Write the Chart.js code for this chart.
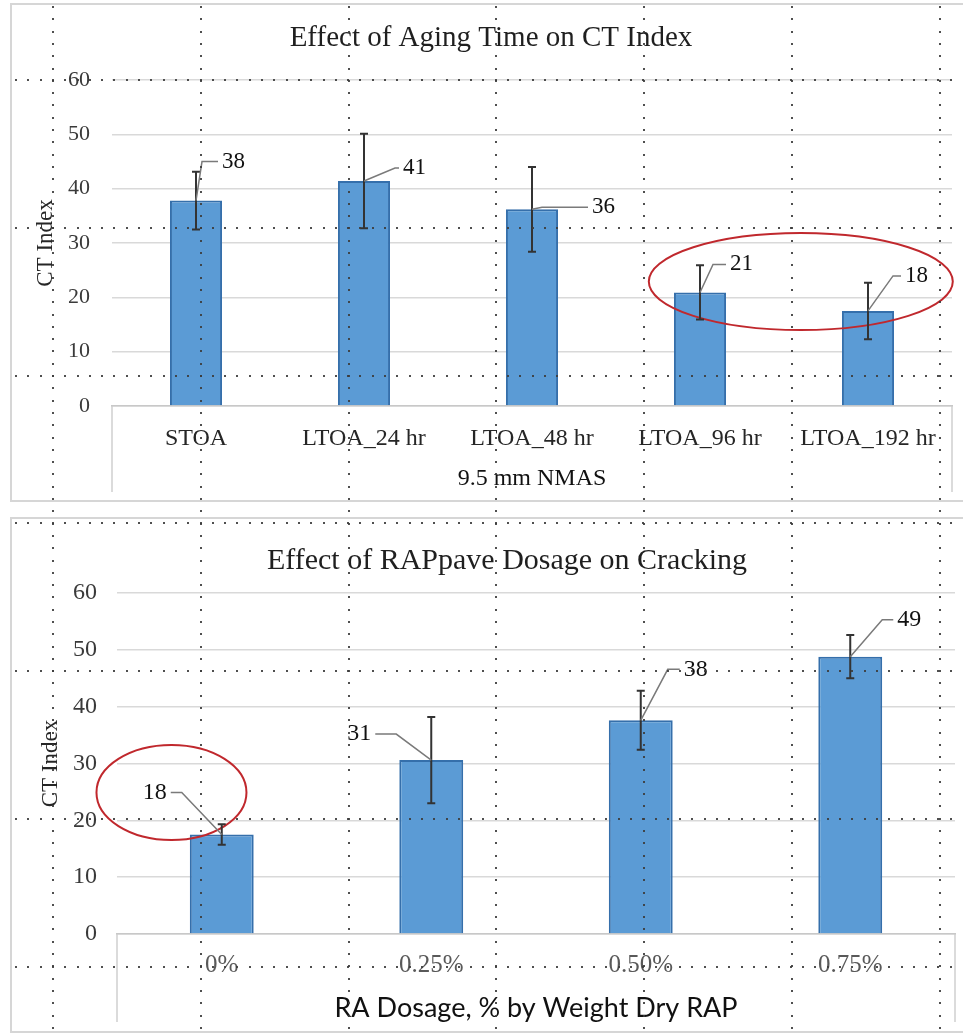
<!DOCTYPE html>
<html>
<head>
<meta charset="utf-8">
<script src="https://cdn.jsdelivr.net/npm/chart.js@4.4.1/dist/chart.umd.min.js"></script>
<style>
  html, body { margin: 0; padding: 0; background: #fff; }
  body { width: 963px; height: 1033px; position: relative; overflow: hidden; }
  #agingChart { position: absolute; left: 10px; top: 3px; }
  #rapChart { position: absolute; left: 10px; top: 517px; }
  #dots { position: absolute; left: 0; top: 0; pointer-events: none; z-index: 5; }
</style>
</head>
<body>
<canvas id="agingChart" width="955" height="499"></canvas>
<canvas id="rapChart" width="955" height="516"></canvas>
<canvas id="dots" width="963" height="1033"></canvas>
<script>
// data
const agingLabels = ["STOA", "LTOA_24 hr", "LTOA_48 hr", "LTOA_96 hr", "LTOA_192 hr"];
const agingCT = [37.8, 41.4, 36.2, 20.9, 17.5];
const agingErr = [5.3, 8.7, 7.8, 5.0, 5.2];

const rapLabels = ["0%", "0.25%", "0.50%", "0.75%"];
const rapCT = [17.5, 30.6, 37.6, 48.8];
const rapErr = [1.8, 7.6, 5.2, 3.8];

const yTicks = [0, 10, 20, 30, 40, 50, 60];

const serif = "'Liberation Serif', 'Times New Roman', serif";

// label placement (px from bar top), k = where the leader bends
const agingLabelPos = [
  { dx: 26, dy: -39, k: 20 },
  { dx: 39, dy: -13, k: 8 },
  { dx: 60, dy: -2, k: 50 },
  { dx: 30, dy: -28, k: 17 },
  { dx: 37, dy: -35, k: 12 }
];
const rapLabelPos = [
  { dx: -55, dy: -42, k: 15 },
  { dx: -60, dy: -26, k: 25 },
  { dx: 43, dy: -51, k: 16 },
  { dx: 47, dy: -37, k: 15 }
];

const panelTitle = {
  id: "panelTitle",
  afterDraw(chart, args, o) {
    const ctx = chart.ctx;
    ctx.save();
    ctx.font = o.size + "px " + serif;
    ctx.fillStyle = "#1f1f1f";
    ctx.textAlign = "center";
    ctx.textBaseline = "middle";
    ctx.fillText(o.text, o.x, o.y);
    ctx.restore();
  }
};

const panelFrame = {
  id: "panelFrame",
  beforeDraw(chart, args, o) {
    const ctx = chart.ctx;
    const a = chart.chartArea;
    ctx.save();
    ctx.strokeStyle = "#d6d6d6";
    ctx.lineWidth = 2;
    ctx.strokeRect(1, 1, chart.width - 2, chart.height - 2);
    ctx.strokeStyle = "#d0d0d0";
    ctx.lineWidth = 1.5;
    ctx.beginPath();
    ctx.moveTo(a.left, a.bottom);
    ctx.lineTo(a.left, a.bottom + o.drop);
    ctx.moveTo(a.right, a.bottom);
    ctx.lineTo(a.right, a.bottom + o.drop);
    ctx.stroke();
    ctx.restore();
  }
};

const barExtras = {
  id: "barExtras",
  afterDatasetsDraw(chart, args, o) {
    const ctx = chart.ctx;
    const ys = chart.scales.y;
    const xs = chart.scales.x;
    const vals = chart.data.datasets[0].data;
    const meta = chart.getDatasetMeta(0);
    ctx.save();
    // red ellipse
    ctx.strokeStyle = "#c0282d";
    ctx.lineWidth = 2;
    ctx.beginPath();
    ctx.ellipse(xs.getPixelForValue(o.ring.x), ys.getPixelForValue(o.ring.y), o.ring.rx, o.ring.ry, 0, 0, Math.PI * 2);
    ctx.stroke();

    meta.data.forEach((bar, i) => {
      const hi = ys.getPixelForValue(vals[i] + o.errors[i]);
      const lo = ys.getPixelForValue(vals[i] - o.errors[i]);
      ctx.strokeStyle = "#333333";
      ctx.lineWidth = 2;
      ctx.beginPath();
      ctx.moveTo(bar.x, hi); ctx.lineTo(bar.x, lo);
      ctx.moveTo(bar.x - 4, hi); ctx.lineTo(bar.x + 4, hi);
      ctx.moveTo(bar.x - 4, lo); ctx.lineTo(bar.x + 4, lo);
      ctx.stroke();

      const p = o.placement[i];
      const dir = p.dx >= 0 ? 1 : -1;
      const edge = bar.x + p.dx;
      const ly = bar.y + p.dy;
      ctx.strokeStyle = "#7a7a7a";
      ctx.lineWidth = 1.5;
      ctx.beginPath();
      ctx.moveTo(bar.x, bar.y);
      ctx.lineTo(edge - dir * p.k, ly);
      ctx.lineTo(edge - dir * 4, ly);
      ctx.stroke();

      ctx.fillStyle = "#111111";
      ctx.font = o.fontSize + "px " + serif;
      ctx.textAlign = dir > 0 ? "left" : "right";
      ctx.textBaseline = "middle";
      ctx.fillText(String(Math.round(vals[i])), edge, ly);
    });
    ctx.restore();
  }
};

function makeChart(id, cfg) {
  return new Chart(document.getElementById(id), {
    type: "bar",
    data: {
      labels: cfg.labels,
      datasets: [{
        data: cfg.values,
        backgroundColor: "#5b9bd5",
        borderColor: "#356fab",
        borderWidth: 2,
        categoryPercentage: 1,
        barPercentage: cfg.barPct
      }]
    },
    plugins: [panelFrame, barExtras, panelTitle],
    options: {
      responsive: false,
      animation: false,
      layout: { padding: { top: cfg.top, right: cfg.right, left: 0, bottom: 0 } },
      plugins: {
        legend: { display: false },
        tooltip: { enabled: false },
        panelTitle: cfg.title,
        panelFrame: { drop: cfg.drop },
        barExtras: { errors: cfg.errors, placement: cfg.placement, ring: cfg.ring, fontSize: cfg.labelSize }
      },
      scales: {
        y: {
          min: 0,
          max: 60,
          afterBuildTicks: (s) => { s.ticks = yTicks.map((v) => ({ value: v })); },
          afterFit: (s) => { s.width = cfg.yWidth; },
          grid: { color: "#d9d9d9", lineWidth: 1.5, drawTicks: false },
          border: { display: false },
          ticks: { padding: cfg.yPad, color: "#3a3a3a", font: { family: serif, size: cfg.tickSize } },
          title: {
            display: true,
            text: "CT Index",
            color: "#262626",
            font: { family: serif, size: cfg.yTitleSize },
            padding: { top: cfg.yTitlePad, bottom: 0 }
          }
        },
        x: {
          afterFit: (s) => { s.height = cfg.xHeight; },
          grid: { display: false, drawTicks: false },
          border: { display: true, color: "#c8c8c8", width: 1.5 },
          ticks: { padding: cfg.xPad, color: cfg.catColor, font: { family: serif, size: cfg.catSize } },
          title: {
            display: true,
            text: cfg.xTitle,
            color: "#111111",
            font: cfg.xTitleFont,
            padding: { top: 0, bottom: cfg.xTitlePad }
          }
        }
      }
    }
  });
}

makeChart("agingChart", {
  labels: agingLabels,
  values: agingCT,
  errors: agingErr,
  placement: agingLabelPos,
  barPct: 0.31,
  top: 77,
  right: 13,
  yWidth: 102,
  yPad: 22,
  tickSize: 22,
  yTitleSize: 23,
  yTitlePad: 22,
  xHeight: 96,
  xPad: 18,
  catSize: 24,
  catColor: "#262626",
  xTitle: "9.5 mm NMAS",
  xTitleFont: { family: serif, size: 24 },
  xTitlePad: 9,
  labelSize: 23,
  drop: 86,
  ring: { x: 3.6, y: 22.9, rx: 152, ry: 48.5 },
  title: { text: "Effect of Aging Time on CT Index", size: 29, x: 481, y: 35 }
});

makeChart("rapChart", {
  labels: rapLabels,
  values: rapCT,
  errors: rapErr,
  placement: rapLabelPos,
  barPct: 0.305,
  top: 76,
  right: 10,
  yWidth: 107,
  yPad: 20,
  tickSize: 24,
  yTitleSize: 23,
  yTitlePad: 27,
  xHeight: 99,
  xPad: 16,
  catSize: 25,
  catColor: "#595959",
  xTitle: "RA Dosage, % by Weight Dry RAP",
  xTitleFont: { family: "Lato, 'Open Sans', sans-serif", size: 27 },
  xTitlePad: 9,
  labelSize: 24,
  drop: 88,
  ring: { x: -0.24, y: 24.9, rx: 75, ry: 47.5 },
  title: { text: "Effect of RAPpave Dosage on Cracking", size: 30, x: 497, y: 44 }
});

// dotted slide guides laid over both panels
const dots = document.getElementById("dots").getContext("2d");
dots.fillStyle = "rgba(60, 60, 60, 0.9)";
const guideStep = 147.75;
for (let c = 0; c < 7; c++) {
  const gx = 53 + c * guideStep;
  for (let gy = 7; gy < 1033; gy += 12.3) dots.fillRect(Math.round(gx) - 1, Math.round(gy) - 1, 2, 2);
}
for (let r = 0; r < 7; r++) {
  const gy = 80 + r * guideStep;
  for (let gx = 16; gx < 963; gx += 12.3) dots.fillRect(Math.round(gx) - 1, Math.round(gy) - 1, 2, 2);
}
</script>
</body>
</html>
